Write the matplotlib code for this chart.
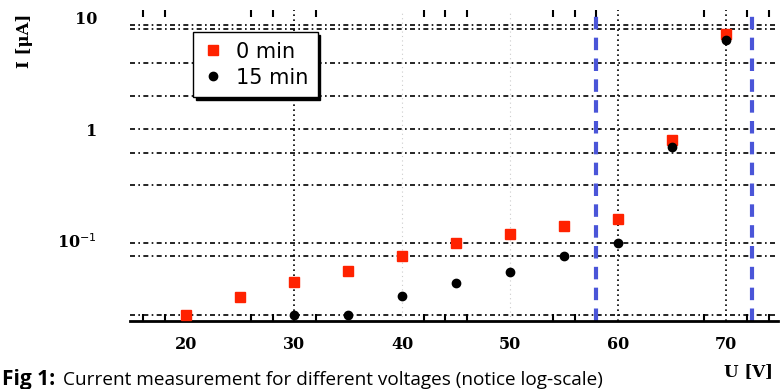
import matplotlib
matplotlib.use('Agg')
from matplotlib import pyplot as plt

# data
voltage_0 = [20, 25, 30, 35, 40, 45, 50, 55, 60, 65, 70]
current_0 = [0.022, 0.0316, 0.043, 0.054, 0.0734, 0.096, 0.116, 0.136, 0.157, 0.81, 7.2]
voltage_15 = [30, 35, 40, 45, 50, 55, 60, 65, 70]
current_15 = [0.022, 0.022, 0.032, 0.042, 0.053, 0.073, 0.096, 0.69, 6.36]

cut_lines = [58.0, 72.4]
x_major = [20, 30, 40, 50, 60, 70]
x_grid = [30, 60, 70]
x_minor = [16, 18, 26, 28, 32, 42, 44, 46, 54, 56, 58, 68, 72, 74]
y_major = [0.1, 1, 10]
y_major_labels = ['10$^{-1}$', '1', '10']
y_grid = [8.66, 8.0, 3.97, 2.01, 1.0, 0.61, 0.316, 0.096, 0.073, 0.022]

fig = plt.figure(figsize=(7.8, 3.89), dpi=100)
ax = fig.add_axes([0.167, 0.175, 0.83, 0.80])
ax.set_yscale('log')
ax.set_xlim(14.8, 74.8)
ax.set_ylim(0.0193, 11.8)

for y in y_grid:
    ax.axhline(y, color='black', lw=1.2, ls=(0, (3, 2, 1, 2)), zorder=1)
for x in x_grid:
    ax.axvline(x, color='black', lw=1.2, ls=(0, (1, 2)), zorder=1)
for x in [40, 50]:
    ax.axvline(x, color='#cccccc', lw=0.8, ls=(0, (1, 3)), zorder=1)
for x in cut_lines:
    ax.axvline(x, color='#4a55d8', lw=3, ls=(0, (3, 2)), zorder=2)

ax.plot(voltage_0, current_0, 's', color='#ff2200', ms=7, label='0 min', zorder=4)
ax.plot(voltage_15, current_15, 'o', color='black', ms=6, label='15 min', zorder=5)

for s in ['top', 'left', 'right']:
    ax.spines[s].set_visible(False)
ax.spines['bottom'].set_linewidth(2)

ax.set_xticks(x_major)
ax.set_xticklabels([str(v) for v in x_major], family='DejaVu Serif',
                   fontweight='bold', fontsize=11.5)
ax.set_xticks(x_minor, minor=True)
ax.tick_params(axis='x', which='major', length=0, pad=11)
ax.tick_params(axis='x', which='minor', direction='in', length=5, width=1.5,
               top=True, bottom=True)

ax.set_yticks(y_major)
ax.set_yticklabels(y_major_labels, family='DejaVu Serif', fontweight='bold', fontsize=11.5)
ax.set_yticks([], minor=True)
ax.tick_params(axis='y', which='major', direction='in', length=0, pad=24)

leg = ax.legend(loc='upper left', bbox_to_anchor=(0.097, 0.928), fontsize=15,
                frameon=True, fancybox=False, shadow={'color': 'black', 'alpha': 1},
                handletextpad=0.6, borderpad=0.45, labelspacing=0.3, handlelength=1.0,
                borderaxespad=0)
leg.get_frame().set_edgecolor('black')
leg.get_frame().set_linewidth(1)
leg.get_frame().set_alpha(1)

fig.text(25 / 780, 1 - 41 / 389, 'I [μA]', rotation=90, ha='center', va='center',
         family='DejaVu Serif', fontweight='bold', fontsize=12)
fig.text(748 / 780, 1 - 372 / 389, 'U [V]', ha='center', va='center',
         family='DejaVu Serif', fontweight='bold', fontsize=12)
fig.text(2 / 780, 1 - 380 / 389, 'Fig 1:', ha='left', va='center',
         family='Open Sans', fontweight='bold', fontsize=15)
fig.text(63 / 780, 1 - 380 / 389, 'Current measurement for different voltages (notice log-scale)',
         ha='left', va='center', family='Open Sans', fontsize=13.7)

fig.savefig('out.png', dpi=100)
